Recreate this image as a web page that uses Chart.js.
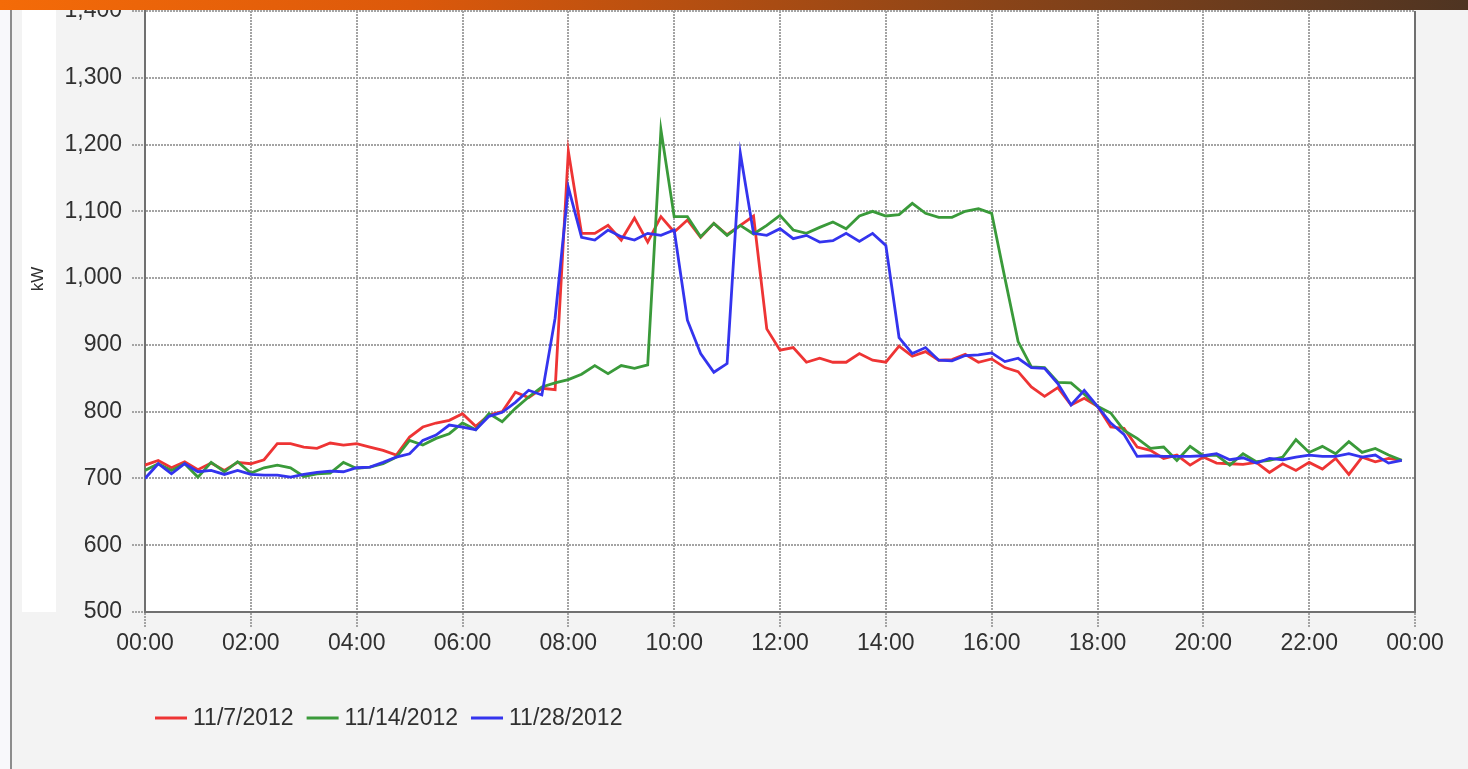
<!DOCTYPE html>
<html>
<head>
<meta charset="utf-8">
<script src="https://cdn.jsdelivr.net/npm/chart.js@4/dist/chart.umd.min.js"></script>
<style>
html,body{margin:0;padding:0;background:#f3f3f3;width:1468px;height:769px;overflow:hidden;}
#wrap{position:relative;width:1468px;height:769px;}
#leftpane{position:absolute;left:0;top:0;width:10px;height:769px;background:#f8f8fb;}
#leftline{position:absolute;left:10px;top:0;width:2px;height:769px;background:#8c8c8c;}
#whitestrip{position:absolute;left:22px;top:10px;width:34px;height:602px;background:#ffffff;}
#c{position:absolute;left:0;top:0;}
#topbar{position:absolute;left:0;top:0;width:1468px;height:10px;background:linear-gradient(to right,#f46b08 0%,#dc590b 28%,#8a4418 68%,#4e3422 100%);}
</style>
</head>
<body>
<div id="wrap">
  <div id="leftpane"></div>
  <div id="leftline"></div>
  <div id="whitestrip"></div>
  <canvas id="c" width="1468" height="769"></canvas>
  <div id="topbar"></div>
</div>
<script>
// ---- data (15-minute readings, kW) ----
const times = ["00:00","00:15","00:30","00:45","01:00","01:15","01:30","01:45","02:00","02:15","02:30","02:45",
"03:00","03:15","03:30","03:45","04:00","04:15","04:30","04:45","05:00","05:15","05:30","05:45",
"06:00","06:15","06:30","06:45","07:00","07:15","07:30","07:45","08:00","08:15","08:30","08:45",
"09:00","09:15","09:30","09:45","10:00","10:15","10:30","10:45","11:00","11:15","11:30","11:45",
"12:00","12:15","12:30","12:45","13:00","13:15","13:30","13:45","14:00","14:15","14:30","14:45",
"15:00","15:15","15:30","15:45","16:00","16:15","16:30","16:45","17:00","17:15","17:30","17:45",
"18:00","18:15","18:30","18:45","19:00","19:15","19:30","19:45","20:00","20:15","20:30","20:45",
"21:00","21:15","21:30","21:45","22:00","22:15","22:30","22:45","23:00","23:15","23:30","23:45"];

const seriesNames = ["11/7/2012","11/14/2012","11/28/2012"];

const kw_2012_11_07 = [720,727,716,725,713,723,712,724,722,728,
 752,752,747,745,753,750,752,747,742,735,
 762,777,783,787,797,778,795,800,829,821,
 835,833,1190,1067,1067,1079,1057,1090,1054,1092,
 1069,1087,1061,1082,1065,1079,1093,924,892,896,
 874,880,874,874,887,877,874,898,883,890,
 877,878,886,874,879,866,860,837,823,836,
 810,820,808,777,775,747,742,730,735,720,
 732,723,722,721,724,709,722,712,724,714,
 730,706,732,725,730,727];

const kw_2012_11_14 = [712,722,712,722,702,724,710,725,708,716,
 720,716,703,707,708,724,715,717,722,732,
 757,750,760,767,783,773,797,785,805,822,
 837,843,848,856,869,857,869,865,870,1222,
 1092,1092,1062,1082,1064,1079,1066,1079,1094,1072,
 1067,1076,1084,1074,1093,1100,1093,1095,1112,1097,
 1091,1091,1100,1104,1097,1000,905,867,866,844,
 843,826,808,798,772,760,745,747,727,748,
 734,735,720,737,725,727,732,758,739,748,
 737,755,739,745,735,727];

const kw_2012_11_28 = [700,722,707,722,710,712,706,712,706,705,
 705,702,706,709,711,710,716,717,724,732,
 737,757,765,780,777,773,793,799,814,832,
 825,940,1136,1061,1057,1072,1062,1057,1067,1064,
 1072,937,887,859,872,1187,1067,1064,1074,1059,
 1064,1054,1056,1067,1055,1067,1049,911,887,896,
 877,876,884,885,888,875,880,866,865,842,
 810,832,808,783,766,733,734,733,733,733,
 734,737,728,731,723,730,728,732,735,733,
 733,737,732,735,723,727];

const yMin = 500, yMax = 1400, yStep = 100;
const xTickStepMinutes = 120;
const axisTitle = "kW";

// ---- helpers ----
const toMinutes = t => { const [h, m] = t.split(":").map(Number); return h * 60 + m; };
const fmtTime = v => { const m = ((v % 1440) + 1440) % 1440; const h = Math.floor(m / 60), mm = m % 60; return String(h).padStart(2, "0") + ":" + String(mm).padStart(2, "0"); };
const toPoints = arr => arr.map((v, i) => ({ x: toMinutes(times[i]), y: v }));

const colors = ["#ee3434", "#3a9a3a", "#3434ee"];
const FONT = '"Liberation Sans", Arial, Helvetica, sans-serif';
Chart.defaults.font.family = FONT;
Chart.defaults.color = "#303030";

const gridColor = "#a4a4a4";
const axisColor = "#707070";

const decor = {
  id: "decor",
  beforeDraw(chart) {
    const { ctx, chartArea: a } = chart;
    ctx.save();
    ctx.fillStyle = "#ffffff";
    ctx.fillRect(a.left, a.top, a.right - a.left, a.bottom - a.top);
    ctx.restore();
  },
  afterDraw(chart) {
    const { ctx, chartArea: a } = chart;
    ctx.save();
    // right frame line
    ctx.strokeStyle = axisColor;
    ctx.lineWidth = 2;
    ctx.beginPath();
    ctx.moveTo(a.right, a.top);
    ctx.lineTo(a.right, a.bottom);
    ctx.stroke();
    // y axis title
    ctx.fillStyle = "#303030";
    ctx.font = "17px " + FONT;
    ctx.textAlign = "center";
    ctx.textBaseline = "middle";
    ctx.translate(38, 279);
    ctx.rotate(-Math.PI / 2);
    ctx.fillText(axisTitle, 0, 0);
    ctx.restore();
    // legend
    ctx.save();
    ctx.font = "23px " + FONT;
    ctx.textBaseline = "middle";
    ctx.textAlign = "left";
    let x = 155;
    const y = 718;
    chart.data.datasets.forEach(ds => {
      ctx.strokeStyle = ds.borderColor;
      ctx.lineWidth = 3;
      ctx.beginPath();
      ctx.moveTo(x, y);
      ctx.lineTo(x + 32, y);
      ctx.stroke();
      ctx.fillStyle = "#303030";
      ctx.fillText(ds.label, x + 38, y + 1);
      x += 38 + ctx.measureText(ds.label).width + 13;
    });
    ctx.restore();
  }
};

const datasets = [kw_2012_11_07, kw_2012_11_14, kw_2012_11_28].map((arr, i) => ({
  label: seriesNames[i],
  data: toPoints(arr),
  borderColor: colors[i],
  backgroundColor: colors[i],
  borderWidth: 2.8,
  pointRadius: 0,
  tension: 0,
  fill: false,
  order: 2 - i
}));

new Chart(document.getElementById("c"), {
  type: "line",
  data: { datasets },
  plugins: [decor],
  options: {
    responsive: false,
    animation: false,
    events: [],
    layout: { padding: { left: 0, top: 11, right: 53, bottom: 0 } },
    plugins: { legend: { display: false }, tooltip: { enabled: false }, title: { display: false } },
    scales: {
      x: {
        type: "linear",
        position: "bottom",
        min: 0,
        max: 1440,
        ticks: {
          stepSize: xTickStepMinutes,
          autoSkip: false,
          maxRotation: 0,
          padding: 3,
          color: "#303030",
          font: { size: 23 },
          callback: v => fmtTime(v)
        },
        grid: { color: gridColor, lineWidth: 2, tickLength: 15, tickColor: gridColor, tickWidth: 2, tickBorderDash: [2, 1] },
        border: { display: true, color: axisColor, width: 2, dash: [2, 1] },
        afterFit(s) { s.height = 157; s.paddingLeft = 0; s.paddingRight = 0; }
      },
      y: {
        min: yMin,
        max: yMax,
        ticks: {
          stepSize: yStep,
          padding: 10,
          color: "#303030",
          font: { size: 23 },
          callback: v => v.toLocaleString("en-US")
        },
        grid: { color: gridColor, lineWidth: 2, tickLength: 13, tickColor: gridColor, tickWidth: 2, tickBorderDash: [2, 1] },
        border: { display: true, color: axisColor, width: 2, dash: [2, 1] },
        afterFit(s) { s.width = 145; s.paddingTop = 0; s.paddingBottom = 0; }
      }
    }
  }
});
</script>
</body>
</html>
